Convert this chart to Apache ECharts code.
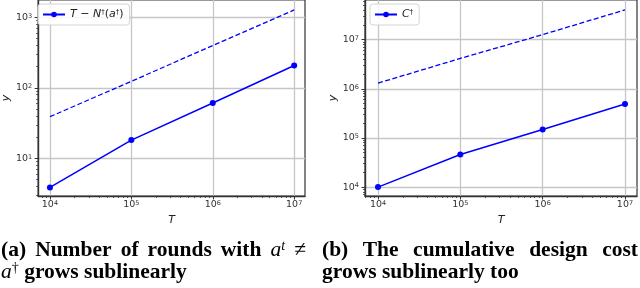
<!DOCTYPE html>
<html><head><meta charset="utf-8">
<script src="https://cdn.jsdelivr.net/npm/echarts@6/dist/echarts.min.js"></script>
<style>html,body{margin:0;padding:0;background:#fff}#c{width:640px;height:288px}</style>
</head><body><div id="c"></div>
<script>
// ---- data ----
const T = [1e4, 1e5, 1e6, 1e7];
const roundsSolid = [3.88, 18.2, 61.1, 208];
const roundsDashed = [39, 124, 398, 1274];
const costSolid = [1.0e4, 4.61e4, 1.49e5, 4.91e5];
const costDashed = [1.30e6, 4.14e6, 1.26e7, 4.02e7];
const xMajorExp = [4, 5, 6, 7];
const yMajorExpA = [1, 2, 3];
const yMajorExpB = [4, 5, 6, 7];
const nameA = 'T − N†(a†)';
const nameB = 'C†';

const L = Math.log10;
function minorLog(lo, hi) {
  const out = [];
  for (let n = Math.floor(lo) - 1; n <= Math.ceil(hi); n++) {
    for (let k = 2; k <= 9; k++) {
      const v = n + L(k);
      if (v > lo && v < hi) out.push(v);
    }
  }
  return out;
}
const FONT = 'DejaVu Sans';
const labelRich = {
  n: {fontSize: 9.5, fontFamily: FONT, color: '#333'},
  s: {fontSize: 6.5, fontFamily: FONT, color: '#333', verticalAlign: 'top'}
};
function mainAxis(gi, min, max, majors, isX, name, nameGap) {
  return {
    type: 'value', gridIndex: gi, min: min, max: max,
    position: isX ? 'bottom' : 'left',
    name: name, nameLocation: 'middle', nameGap: nameGap,
    nameTextStyle: {fontFamily: FONT, fontStyle: 'italic', fontSize: 11, color: '#222'},
    axisLine: {show: true, lineStyle: {color: '#333', width: 1.4}},
    axisTick: {show: true, inside: false, length: 3.5, customValues: majors, lineStyle: {color: '#333', width: 1}},
    axisLabel: {customValues: majors, margin: isX ? 4 : 6,
      formatter: v => '{n|10}{s|' + Math.round(v) + '}', rich: labelRich},
    splitLine: {show: true, lineStyle: {color: '#c6c6c6', width: 1.3}}
  };
}
function minorAxis(gi, min, max, isX) {
  return {
    type: 'value', gridIndex: gi, min: min, max: max,
    position: isX ? 'bottom' : 'left',
    axisLine: {show: false},
    axisTick: {show: true, inside: false, length: 2, customValues: minorLog(min, max), lineStyle: {color: '#333', width: 0.8}},
    axisLabel: {show: false},
    splitLine: {show: false}
  };
}
const xA = [3.855, 7.133], yA = [0.467, 3.246];
const xB = [3.842, 7.146], yB = [3.819, 7.805];
const toPts = (xs, ys) => xs.map((x, i) => [L(x), L(ys[i])]);

const solidStyle = {color: '#0000ff', width: 1.5};
const dashStyle = {color: '#0000ff', width: 1.3, type: [5, 2.5]};

// ---- caption layout (justified first lines) ----
const CS = 21.5;
const capFonts = {
  b: 'bold ' + CS + 'px "Liberation Serif"',
  i: 'italic ' + CS + 'px "Liberation Serif"',
  s: 'italic 14px "Liberation Serif"',
  d: '14px "Liberation Serif"',
  m: CS + 'px "Liberation Serif"'
};
const capRich = {};
Object.keys(capFonts).forEach(k => {
  capRich[k] = {font: capFonts[k], fill: '#000'};
  if (k === 's' || k === 'd') capRich[k].verticalAlign = 'top';
});
const mctx = document.createElement('canvas').getContext('2d');
function wordW(segs) {
  let w = 0;
  segs.forEach(([k, t]) => { mctx.font = capFonts[k]; w += mctx.measureText(t).width; });
  return w;
}
function richStr(segs) { return segs.map(([k, t]) => '{' + k + '|' + t + '}').join(''); }
function justify(words, x0, x1, y) {
  const ws = words.map(wordW);
  const total = ws.reduce((a, b) => a + b, 0);
  const gap = (x1 - x0 - total) / (words.length - 1);
  let x = x0;
  return words.map((segs, i) => {
    const el = {type: 'text', style: {text: richStr(segs), rich: capRich, x: x, y: y,
      align: 'left', verticalAlign: 'middle', textVerticalAlign: 'middle'}};
    x += ws[i] + gap;
    return el;
  });
}
function plainLine(segs, x, y) {
  return {type: 'text', style: {text: richStr(segs), rich: capRich, x: x, y: y,
    align: 'left', verticalAlign: 'middle', textVerticalAlign: 'middle'}};
}
const Y1 = 250, Y2 = 272;
const captionEls = [].concat(
  justify([[['b', '(a)']], [['b', 'Number']], [['b', 'of']], [['b', 'rounds']], [['b', 'with']],
           [['i', 'a'], ['s', 't']], [['m', '≠']]], 1, 306, Y1),
  [plainLine([['i', 'a'], ['d', '†'], ['b', ' grows sublinearly']], 1, Y2)],
  justify([[['b', '(b)']], [['b', 'The']], [['b', 'cumulative']], [['b', 'design']], [['b', 'cost']]], 322, 638, Y1),
  [plainLine([['b', 'grows sublinearly too']], 322, Y2)]
);

const option = {
  animation: false,
  backgroundColor: '#fff',
  grid: [
    {left: 34, right: 335, top: -2, bottom: 92, show: true, borderColor: '#333', borderWidth: 1.2, backgroundColor: 'transparent'},
    {left: 365, right: 3, top: -2, bottom: 92, show: true, borderColor: '#333', borderWidth: 1.2, backgroundColor: 'transparent'}
  ],
  xAxis: [
    mainAxis(0, xA[0], xA[1], xMajorExp, true, 'T', 18),
    minorAxis(0, xA[0], xA[1], true),
    mainAxis(1, xB[0], xB[1], xMajorExp, true, 'T', 18),
    minorAxis(1, xB[0], xB[1], true)
  ],
  yAxis: [
    mainAxis(0, yA[0], yA[1], yMajorExpA, false, 'y', 24),
    minorAxis(0, yA[0], yA[1], false),
    mainAxis(1, yB[0], yB[1], yMajorExpB, false, 'y', 24),
    minorAxis(1, yB[0], yB[1], false)
  ],
  legend: [
    {data: [nameA], left: 38, top: 4, orient: 'vertical', padding: [5, 6, 5, 4],
     itemWidth: 22, itemHeight: 7, itemGap: 4,
     backgroundColor: 'rgba(255,255,255,0.85)', borderColor: '#d4d4d4', borderWidth: 1, borderRadius: 3,
     formatter: () => '{i|T − N}{s|†}{n|(}{i|a}{s|†}{n|)}',
     textStyle: {fontFamily: FONT, fontSize: 11, color: '#222', rich: {
       i: {fontStyle: 'italic', fontFamily: FONT, fontSize: 11, color: '#222'},
       n: {fontFamily: FONT, fontSize: 11, color: '#222'},
       s: {fontFamily: FONT, fontSize: 7, color: '#222', verticalAlign: 'top'}}}},
    {data: [nameB], left: 370, top: 4, orient: 'vertical', padding: [5, 6, 5, 4],
     itemWidth: 22, itemHeight: 7, itemGap: 4,
     backgroundColor: 'rgba(255,255,255,0.85)', borderColor: '#d4d4d4', borderWidth: 1, borderRadius: 3,
     formatter: () => '{i|C}{s|†}',
     textStyle: {fontFamily: FONT, fontSize: 11, color: '#222', rich: {
       i: {fontStyle: 'italic', fontFamily: FONT, fontSize: 11, color: '#222'},
       s: {fontFamily: FONT, fontSize: 7, color: '#222', verticalAlign: 'top'}}}}
  ],
  series: [
    {name: nameA, type: 'line', xAxisIndex: 0, yAxisIndex: 0, data: toPts(T, roundsSolid),
     symbol: 'circle', symbolSize: 6, lineStyle: solidStyle, itemStyle: {color: '#0000ff'}, z: 5},
    {name: 'refA', type: 'line', xAxisIndex: 0, yAxisIndex: 0, data: toPts(T, roundsDashed),
     symbol: 'none', lineStyle: dashStyle, itemStyle: {color: '#0000ff'}, z: 4},
    {name: nameB, type: 'line', xAxisIndex: 2, yAxisIndex: 2, data: toPts(T, costSolid),
     symbol: 'circle', symbolSize: 6, lineStyle: solidStyle, itemStyle: {color: '#0000ff'}, z: 5},
    {name: 'refB', type: 'line', xAxisIndex: 2, yAxisIndex: 2, data: toPts(T, costDashed),
     symbol: 'none', lineStyle: dashStyle, itemStyle: {color: '#0000ff'}, z: 4}
  ],
  graphic: captionEls
};
const chart = echarts.init(document.getElementById('c'), null, {renderer: 'canvas'});
chart.setOption(option);
</script>
</body></html>
